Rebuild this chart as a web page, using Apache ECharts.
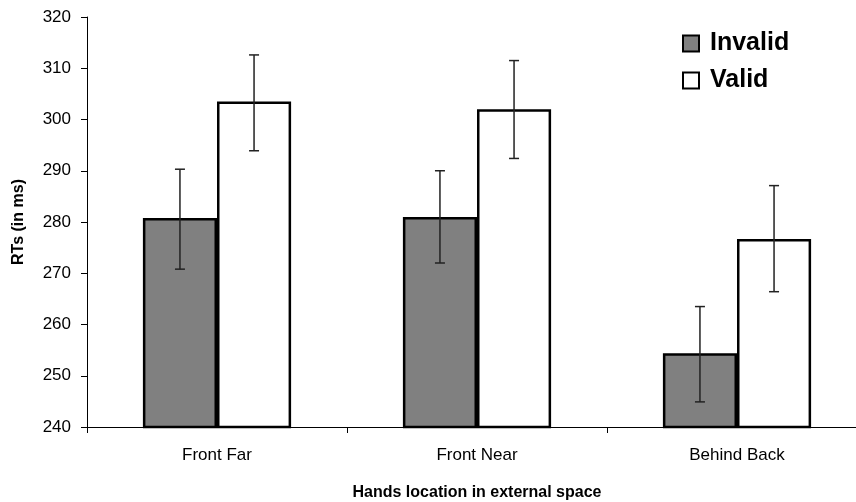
<!DOCTYPE html>
<html>
<head>
<meta charset="utf-8">
<script src="https://cdn.jsdelivr.net/npm/echarts@6/dist/echarts.min.js"></script>
<style>
html,body{margin:0;padding:0;background:#fff;}
#chart{width:856px;height:502px;}
</style>
</head>
<body>
<div id="chart"></div>
<script>
var categories = ['Front Far', 'Front Near', 'Behind Back'];
var seriesNames = ['Invalid', 'Valid'];
var invalidValues = [280.8, 281.0, 254.4];
var invalidLow = [270.8, 272.0, 244.9];
var invalidHigh = [290.3, 290.0, 263.5];
var validValues = [303.5, 302.0, 276.7];
var validLow = [293.9, 292.4, 266.4];
var validHigh = [312.6, 311.5, 287.1];
var yTicks = [240, 250, 260, 270, 280, 290, 300, 310, 320];

var FONT = '"Liberation Sans", Arial, sans-serif';
var BAR_FRAC = 0.285;

var chart = echarts.init(document.getElementById('chart'), null, {renderer: 'canvas'});

function errItem(sign) {
  return function (params, api) {
    var idx = api.value(0);
    var band = api.size([1, 0])[0];
    var off = sign * band * BAR_FRAC / 2;
    var pHigh = api.coord([idx, api.value(2)]);
    var pLow = api.coord([idx, api.value(1)]);
    var x = pHigh[0] + off;
    var cap = 5;
    var style = {stroke: '#222', lineWidth: 1.5};
    return {
      type: 'group',
      children: [
        {type: 'line', shape: {x1: x, y1: pHigh[1], x2: x, y2: pLow[1]}, style: style},
        {type: 'line', shape: {x1: x - cap, y1: pHigh[1], x2: x + cap, y2: pHigh[1]}, style: style},
        {type: 'line', shape: {x1: x - cap, y1: pLow[1], x2: x + cap, y2: pLow[1]}, style: style}
      ]
    };
  };
}

function errData(lows, highs) {
  return categories.map(function (c, i) { return [i, lows[i], highs[i]]; });
}

var option = {
  animation: false,
  backgroundColor: '#fff',
  grid: {left: 87, top: 17, width: 780, height: 410, containLabel: false, outerBoundsMode: 'none'},
  legend: {
    data: seriesNames,
    orient: 'vertical',
    left: 677,
    top: 26,
    itemWidth: 16,
    itemHeight: 16,
    itemGap: 12,
    icon: 'rect',
    textStyle: {fontFamily: FONT, fontSize: 25, fontWeight: 'bold', color: '#000', padding: [0, 0, 0, 6]}
  },
  xAxis: {
    type: 'category',
    data: categories,
    name: 'Hands location in external space',
    nameLocation: 'middle',
    nameGap: 58,
    nameTextStyle: {fontFamily: FONT, fontSize: 16, fontWeight: 'bold', color: '#000'},
    axisLine: {lineStyle: {color: '#000', width: 1}},
    axisTick: {show: true, length: 6, lineStyle: {color: '#000'}},
    axisLabel: {fontFamily: FONT, fontSize: 17, color: '#000', margin: 20}
  },
  yAxis: {
    type: 'value',
    min: yTicks[0],
    max: yTicks[yTicks.length - 1],
    interval: 10,
    name: 'RTs (in ms)',
    nameLocation: 'middle',
    nameGap: 60,
    nameRotate: 90,
    nameTextStyle: {fontFamily: FONT, fontSize: 16, fontWeight: 'bold', color: '#000'},
    axisLine: {show: true, lineStyle: {color: '#000', width: 1}},
    axisTick: {show: true, length: 6, lineStyle: {color: '#000'}},
    splitLine: {show: false},
    axisLabel: {fontFamily: FONT, fontSize: 17, color: '#000', margin: 16}
  },
  series: [
    {
      name: seriesNames[0],
      type: 'bar',
      data: invalidValues,
      barWidth: (BAR_FRAC * 100) + '%',
      barGap: '0%',
      itemStyle: {color: '#808080', borderColor: '#000', borderWidth: 2.5}
    },
    {
      name: seriesNames[1],
      type: 'bar',
      data: validValues,
      barWidth: (BAR_FRAC * 100) + '%',
      barGap: '0%',
      itemStyle: {color: '#fff', borderColor: '#000', borderWidth: 2.5}
    },
    {
      type: 'custom',
      renderItem: errItem(-1),
      data: errData(invalidLow, invalidHigh),
      encode: {x: 0, y: [1, 2]},
      z: 10,
      silent: true
    },
    {
      type: 'custom',
      renderItem: errItem(1),
      data: errData(validLow, validHigh),
      encode: {x: 0, y: [1, 2]},
      z: 10,
      silent: true
    }
  ]
};
chart.setOption(option);
</script>
</body>
</html>
